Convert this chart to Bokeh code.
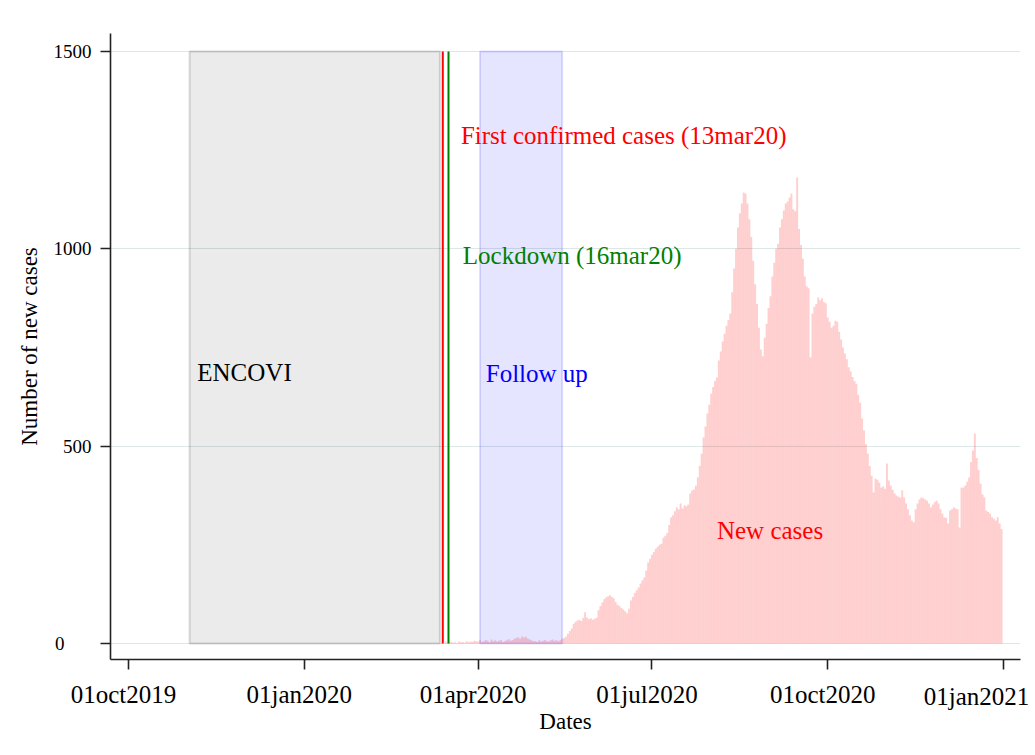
import pandas as pd
from bokeh.plotting import figure
from bokeh.models import FixedTicker, Range1d, LinearAxis, ColumnDataSource
from bokeh.core.properties import value
from bokeh.embed import file_html
from bokeh.resources import INLINE

ORIGIN = "2019-10-01"

# ---------------- data ----------------
tick_dates = ["2019-10-01", "2020-01-01", "2020-04-01", "2020-07-01", "2020-10-01", "2021-01-01"]
tick_labels = ["01oct2019", "01jan2020", "01apr2020", "01jul2020", "01oct2020", "01jan2021"]
y_ticks = [0, 500, 1000, 1500]
y_labels = ["0", "500", "1000", "1500"]

encovi_period = ["2019-11-02", "2020-03-12"]
followup_period = ["2020-04-02", "2020-05-15"]
first_case_date = "2020-03-13"
lockdown_date = "2020-03-16"
band_top = 1500

cases_start = "2020-03-13"
cases_mar = [1, 0, 5, 2, 3, 4, 2, 3, 1, 5, 3, 4, 2, 6, 3, 5, 4, 7, 6]
cases_apr = [5, 8, 4, 6, 9, 7, 3, 10, 6, 8, 5, 7, 9, 4, 6, 8, 11, 7, 9, 12,
             14, 16, 12, 18, 15, 17, 13, 10, 8, 6]
cases_may = [6, 4, 8, 5, 7, 9, 6, 5, 8, 10, 7, 9, 6, 8,
             12, 14, 18, 25, 32, 38, 50, 55, 58, 60, 57, 65, 79, 66, 62, 64, 60]
cases_jun = [63, 65, 84, 95, 104, 112, 117, 120, 122, 118, 115, 105, 98, 95, 90,
             86, 82, 77, 88, 109, 118, 128, 135, 142, 152, 160, 167, 185, 205, 215]
cases_jul = [225, 232, 240, 245, 250, 253, 268, 273, 280, 300, 320, 325, 335, 345, 340,
             355, 342, 350, 348, 352, 380, 388, 390, 400, 421, 450, 481, 522, 550, 583, 605]
cases_aug = [633, 650, 665, 674, 717, 740, 765, 785, 805, 820, 836, 890, 950, 1000, 1054,
             1090, 1115, 1143, 1140, 1115, 1075, 1030, 970, 910, 860, 800, 745, 728, 775, 810, 850]
cases_sep = [880, 930, 965, 1000, 1013, 1054, 1075, 1097, 1115, 1120, 1130, 1140, 1100, 1095, 1181,
             1050, 1010, 975, 930, 905, 900, 725, 836, 853, 860, 877, 870, 875, 865, 862]
cases_oct = [826, 815, 800, 805, 818, 815, 790, 770, 750, 735, 720, 700, 690, 675, 665, 658,
             630, 610, 570, 540, 505, 481, 450, 425, 383, 418, 415, 408, 395, 398, 392]
cases_nov = [456, 413, 400, 390, 380, 375, 372, 370, 388, 370, 355, 340, 325, 312, 307,
             340, 355, 365, 370, 368, 365, 362, 355, 345, 352, 358, 362, 355, 340, 329]
cases_dec = [320, 318, 304, 337, 340, 345, 342, 340, 294, 395, 395, 400, 410, 421, 460, 489,
             532, 470, 440, 405, 378, 370, 337, 333, 329, 320, 316, 312, 320, 304, 290]

note_texts = ["ENCOVI", "Follow up", "Lockdown (16mar20)",
              "First confirmed cases (13mar20)", "New cases"]
note_dates = ["2019-11-06", "2020-04-05", "2020-03-24", "2020-03-23", "2020-08-04"]
note_levels = [687, 684, 983, 1287, 286]
note_colors = ["#000000", "#0000ff", "#008000", "#ff0000", "#ff0000"]


def day(s):
    return (pd.Timestamp(s) - pd.Timestamp(ORIGIN)).days


cases = (cases_mar + cases_apr + cases_may + cases_jun + cases_jul + cases_aug
         + cases_sep + cases_oct + cases_nov + cases_dec)
case_dates = pd.date_range(cases_start, periods=len(cases), freq="D")
case_days = [(d - pd.Timestamp(ORIGIN)).days for d in case_dates]
tick_days = [day(t) for t in tick_dates]

SERIF = "Liberation Serif"
PX_PER_DAY = 1.9105
x_start, x_end = tick_days[0] - 9.42, tick_days[-1] + 8.9

p = figure(width=1030, height=750, output_backend="svg", toolbar_location=None,
           x_range=Range1d(x_start, x_end),
           y_range=Range1d(-40.5, 1545.6),
           min_border_left=110, min_border_right=10, min_border_top=33, min_border_bottom=91)
p.outline_line_color = None
p.background_fill_color = "white"
p.border_fill_color = "white"

# shaded periods
p.quad(left=[day(encovi_period[0])], right=[day(encovi_period[1])], bottom=[0], top=[band_top],
       fill_color="black", fill_alpha=0.08, line_color="black", line_alpha=0.14, line_width=2)
p.quad(left=[day(followup_period[0])], right=[day(followup_period[1])], bottom=[0], top=[band_top],
       fill_color="blue", fill_alpha=0.10, line_color="blue", line_alpha=0.13, line_width=2)

# daily new cases
src = ColumnDataSource(dict(x=case_days, top=cases))
p.vbar(x="x", top="top", bottom=0, width=1.0, source=src,
       fill_color="#ff0000", fill_alpha=0.19, line_color=None)

# event lines
p.segment(x0=[day(first_case_date) + 0.5], x1=[day(first_case_date) + 0.5], y0=[0], y1=[band_top],
          line_color="#ff0000", line_width=2)
p.segment(x0=[day(lockdown_date) + 0.5], x1=[day(lockdown_date) + 0.5], y0=[0], y1=[band_top],
          line_color="#008000", line_width=2)

# annotations
nsrc = ColumnDataSource(dict(x=[day(d) for d in note_dates], y=note_levels,
                             text=note_texts, color=note_colors))
p.text(x="x", y="y", text="text", text_color="color", source=nsrc,
       text_font=value(SERIF), text_font_size="25px",
       text_align="left", text_baseline="middle")

# grid
p.xgrid.visible = False
p.ygrid.ticker = FixedTicker(ticks=y_ticks)
p.ygrid.grid_line_color = "#dde7e7"
p.ygrid.grid_line_width = 1


def style_axis(ax, label_size):
    ax.axis_line_color = "#222222"
    ax.axis_line_width = 1.6
    ax.major_tick_line_color = "#222222"
    ax.major_tick_line_width = 1.6
    ax.major_tick_in = 0
    ax.major_tick_out = 10
    ax.minor_tick_line_color = None
    ax.major_label_text_font = SERIF
    ax.major_label_text_color = "#000000"
    ax.major_label_text_font_size = label_size
    ax.axis_label_text_font = SERIF
    ax.axis_label_text_font_style = "normal"
    ax.axis_label_text_color = "#000000"
    ax.axis_label_text_font_size = "23px"


def label_only(ax):
    ax.axis_line_color = None
    ax.major_tick_line_color = None
    ax.major_tick_out = 0


# ---- x axis: line + ticks on the main axis, labels on label-only axes ----
xa = p.xaxis[0]
xa.ticker = FixedTicker(ticks=tick_days)
xa.major_label_overrides = {d: "" for d in tick_days}
style_axis(xa, "1px")
xa.major_label_standoff = 0

p.extra_x_ranges = {
    "labels": Range1d(x_start + 5 / PX_PER_DAY, x_end + 5 / PX_PER_DAY),
    "lastlabel": Range1d(x_start + 27 / PX_PER_DAY, x_end + 27 / PX_PER_DAY),
}
ax_dates = LinearAxis(x_range_name="labels", ticker=FixedTicker(ticks=tick_days[:-1]),
                      major_label_overrides=dict(zip(tick_days[:-1], tick_labels[:-1])))
p.add_layout(ax_dates, "below")
style_axis(ax_dates, "25px")
label_only(ax_dates)
ax_dates.major_label_standoff = 11

ax_last = LinearAxis(x_range_name="lastlabel", ticker=FixedTicker(ticks=[tick_days[-1]]),
                     major_label_overrides={tick_days[-1]: tick_labels[-1]})
p.add_layout(ax_last, "below")
style_axis(ax_last, "25px")
label_only(ax_last)
ax_last.major_label_standoff = -28
ax_last.axis_label = "Dates"
ax_last.axis_label_standoff = -4

# ---- y axis ----
ya = p.yaxis[0]
ya.ticker = FixedTicker(ticks=y_ticks)
ya.major_label_overrides = {y_ticks[0]: ""}
style_axis(ya, "19px")
ya.major_label_standoff = 9

ax_zero = LinearAxis(ticker=FixedTicker(ticks=y_ticks[:1]),
                     major_label_overrides={y_ticks[0]: y_labels[0]})
p.add_layout(ax_zero, "left")
style_axis(ax_zero, "19px")
label_only(ax_zero)
ax_zero.major_label_standoff = -14
ax_zero.axis_label = "Number of new cases"
ax_zero.axis_label_standoff = 10

open("out.html", "w").write(file_html(p, INLINE))
